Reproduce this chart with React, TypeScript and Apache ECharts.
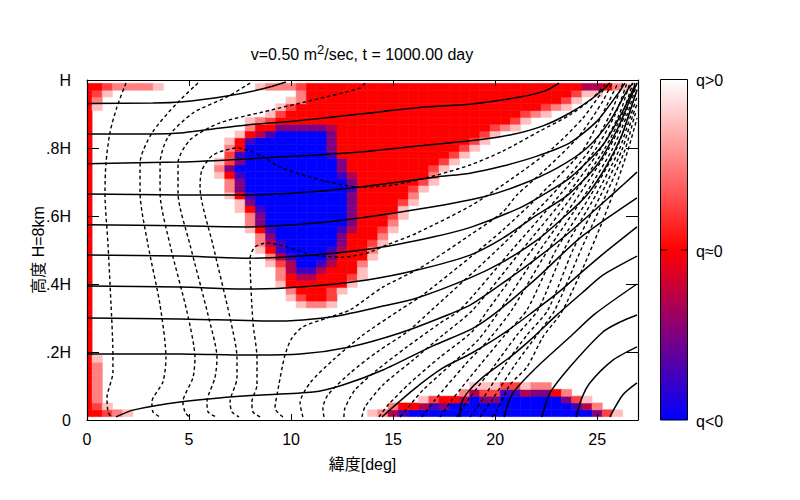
import React, { useEffect, useRef } from "react";
import * as echarts from "echarts";

const FONT = '"Liberation Sans","Noto Sans CJK JP",sans-serif';

const titleParts = ["v=0.50 m", "2", "/sec, t = 1000.00 day"];
const xAxisName = "緯度[deg]";
const yAxisName = "高度 H=8km";
const yTickLabels = ["0", ".2H", ".4H", ".6H", ".8H", "H"];
const barLabels = ["q>0", "q≈0", "q<0"];

// q levels: -1 blue, 0 red, +1 white
const qLevels: Record<string, number> = { B: -1, i: -0.75, p: -0.5, m: -0.3, r: 0, c: 0.25, b: 0.5, a: 0.75 };

// Cells by row (row n is height n/50); column k is latitude k/2. "start:letters" or "from-to:letter".
const qRows: Record<number, string> = {
  49: "0:rrcbbbba 17:abbbc 22-48:r 49:mmrba",
  48: "0:rca 21:b 22-47:r 48:caa",
  47: "0:rb 20:ab 22-46:r 47:ca",
  46: "0:ra 19:ac 21-44:r 45:cba",
  45: "0:r 18:ac 20-42:r 43:cba",
  44: "0:r 16:abc 19-41:r 42:ca",
  43: "0:r 16:b 17-18:r 19-23:p 24:m 25-39:r 40:cba",
  42: "0:r 15:armi 19-23:B 24:p 25-38:r 39:ca",
  41: "0:r 14:ari 17-23:B 24:p 25-37:r 38:ca",
  40: "0:r 14:br 16-23:B 24:p 25-36:r 37:ca",
  39: "0:r 14:ci 16-23:B 24:i 25-35:r 36:ca",
  38: "0:r 13:acp 16-24:B 25:p 26-34:r 35:ca",
  37: "0:r 13:bp 15-24:B 25:p 26-33:r 34:ca",
  36: "0:r 13:ari 16-24:B 25:im 27-33:r 34:b",
  35: "0:r 14:bp 16-25:B 26:p 27-32:r 33:ca",
  34: "0:r 14:bp 16-25:B 26:i 27-31:r 32:ca",
  33: "0:r 14:ari 17-25:B 26:p 27-31:r 32:b",
  32: "0:r 15:ap 17-25:B 26:p 27-30:r 31:ca",
  31: "0:r 15:ari 18-25:B 26:p 27-30:r 31:a",
  30: "0:r 16:bp 18-25:B 26:p 27-29:r 30:ca",
  29: "0:r 16:bp 18-25:B 26:p 27-29:r 30:b",
  28: "0:r 16:ari 19-24:B 25:im 27-28:r 29:ca",
  27: "0:r 17:bp 19-24:B 25:p 26-28:r 29:b",
  26: "0:r 17:bmi 20-24:B 25:p 26-27:r 28:ca",
  25: "0:r 17:ari 20-23:B 24:im 26-27:r 28:b",
  24: "0:r 18:bmi 21-23:B 24:p 25-27:r 28:a",
  23: "0:r 18:acm 21-22:B 23:im 25-26:r 27:b",
  22: "0:r 19:bmiim 24-26:r 27:a",
  21: "0:r 19:brmm 23-25:r 26:ca",
  20: "0:r 19:a 20-25:r 26:a",
  19: "0:r 20:b 21-23:r 24:ca",
  18: "0:r 20:ac 22-23:r 24:c",
  17: "0:r 21:abba",
  16: "0:r",
  15: "0:r",
  14: "0:r",
  13: "0:r",
  12: "0:r",
  11: "0:r",
  10: "0:r",
  9: "0:ra",
  8: "0:rb",
  7: "0:rb",
  6: "0:rb",
  5: "0:rb 38:aaaccabb",
  4: "0:rb 37:bmcc 41:iimppr 47:b",
  3: "0:rb 33:ac 35-36:r 37:mB 39:pp 41-46:B 47:pca",
  2: "0:rca 30:br 32:r 33:mip 36-47:B 48:imb",
  1: "0:rrcba 28:abmi 32-49:B 50:pca",
};

// Solid contours: [latitude deg, height / H]
const solidContours: number[][][] = [
  [[0,.931],[3.23,.932],[4.56,.935],[6.86,.953],[8.62,.974],[9.75,.994]],
  [[0,.841],[3.23,.841],[4.56,.844],[6.17,.856],[7.84,.868],[10.09,.879],[13.38,.9],[16.66,.921],[18.77,.929],[21.21,.95],[22.44,.968],[23.13,.991]],
  [[0,.754],[4.56,.759],[7.84,.768],[11.07,.779],[13.38,.788],[16.66,.809],[18.77,.821],[20.73,.838],[22.34,.865],[23.66,.903],[24.79,.947],[25.62,.991]],
  [[0,.665],[4.56,.662],[7.84,.662],[11.07,.671],[13.38,.685],[17.15,.715],[18.77,.726],[20.38,.747],[22.05,.776],[23.66,.815],[24.99,.879],[25.97,.956],[26.36,.991]],
  [[0,.574],[4.56,.571],[7.84,.568],[11.07,.579],[13.38,.594],[16.66,.624],[19.4,.656],[21.21,.691],[23.03,.741],[24.5,.8],[25.62,.879],[26.46,.968],[26.75,.991]],
  [[0,.485],[4.56,.482],[7.84,.476],[10.44,.482],[14.21,.506],[16.95,.538],[18.86,.568],[21.21,.624],[22.34,.662],[23.66,.712],[25.28,.809],[26.26,.909],[26.85,.985]],
  [[0,.394],[4.56,.391],[7.84,.385],[10.44,.391],[13.72,.412],[16.17,.441],[18.77,.485],[20.38,.535],[22.05,.603],[23.57,.662],[24.99,.75],[25.97,.853],[26.6,.941],[26.95,.991]],
  [[0,.3],[4.56,.297],[9.46,.291],[11.07,.297],[12.54,.309],[14.5,.335],[16.17,.359],[18.77,.418],[20.38,.465],[22.05,.529],[23.32,.594],[24.5,.662],[25.48,.75],[26.21,.838],[26.7,.926],[26.95,.971]],
  [[0,.194],[4.56,.194],[7.84,.191],[10.44,.194],[12.89,.215],[15.34,.256],[17.3,.3],[18.77,.338],[20.38,.403],[22.05,.476],[23.66,.553],[25.72,.662],[26.95,.729]],
  [[1.42,.009],[2.25,.029],[4.56,.053],[7.84,.071],[11.07,.082],[12.54,.103],[14.5,.147],[16.95,.218],[18.86,.268],[20.09,.318],[22.05,.418],[24.15,.535],[26.95,.653]],
  [[14.45,.009],[15.97,.088],[17.44,.153],[18.86,.197],[20.38,.253],[21.85,.318],[23.17,.379],[24.3,.438],[25.28,.488],[26.95,.568]],
  [[18.28,.009],[18.32,.044],[18.62,.079],[19.4,.126],[20.73,.185],[21.71,.235],[23.08,.312],[24.3,.376],[25.28,.426],[26.95,.482]],
  [[20.43,.009],[20.87,.079],[22.05,.156],[23.66,.244],[24.89,.312],[26.95,.4]],
  [[22.29,.009],[22.68,.079],[23.66,.156],[25.28,.259],[26.11,.288],[26.95,.309]],
  [[23.96,.009],[24.25,.065],[24.64,.109],[25.77,.176],[26.95,.215]],
  [[25.62,.009],[26.26,.074],[26.95,.109]],
];

// Dashed contours: [latitude deg, height / H]
const dashedContours: number[][][] = [
  [[1.91,.991],[1.47,.921],[1.13,.847],[.93,.756],[.88,.668],[1.03,.515],[1.13,.397],[1.27,.191],[1.27,.141],[.98,.065],[1.03,.024],[1.18,.009]],
  [[5.44,.991],[4.41,.932],[3.18,.844],[2.6,.756],[2.6,.668],[2.99,.515],[3.58,.338],[3.87,.182],[3.72,.112],[3.18,.053],[3.23,.024],[3.58,.009]],
  [[7.99,.991],[6.86,.95],[5.19,.903],[3.97,.832],[3.58,.756],[3.58,.668],[4.07,.515],[4.9,.318],[5.29,.182],[5.19,.124],[4.7,.053],[4.8,.024],[5,.009]],
  [[13.62,.991],[13.38,.976],[11.07,.941],[8.62,.906],[6.52,.874],[5.05,.824],[4.46,.756],[4.46,.668],[5.05,.515],[5.93,.309],[6.37,.182],[6.27,.124],[5.88,.053],[5.93,.024],[6.32,.009]],
  [[25.38,.988],[24.79,.947],[23.66,.897],[22.2,.85],[20.38,.791],[18.77,.75],[16.81,.715],[14.99,.691],[13.38,.685],[11.07,.712],[9.46,.744],[8.48,.779],[7.35,.8],[6.17,.779],[5.63,.735],[5.54,.685],[6.17,.515],[7.01,.3],[7.35,.182],[7.35,.124],[7.01,.053],[7.1,.024],[7.45,.009]],
  [[8.48,.009],[8.13,.024],[8.08,.053],[8.33,.103],[8.33,.182],[8.13,.288],[7.99,.476],[8.23,.509],[8.82,.521],[9.8,.509],[11.07,.485],[12.54,.479],[13.72,.491],[14.7,.515],[16.17,.55],[18.86,.632],[20.87,.712],[22.83,.8],[24.3,.888],[25.28,.968],[25.62,.991]],
  [[9.6,.009],[9.21,.035],[9.31,.074],[9.7,.191],[10.04,.241],[10.58,.274],[11.76,.3],[12.89,.324],[14.5,.391],[16.32,.447],[18.77,.544],[20.38,.612],[21.07,.662],[22.54,.741],[24.15,.838],[25.28,.938],[25.72,.991]],
  [[10.58,.009],[10.44,.05],[10.93,.109],[12.05,.176],[13.52,.25],[15.34,.324],[16.46,.368],[18.91,.485],[20.38,.559],[22.2,.662],[24.3,.794],[25.23,.897],[26.02,.991]],
  [[11.61,.009],[11.56,.035],[11.81,.074],[12.89,.138],[14.21,.2],[15.68,.259],[16.9,.324],[20.09,.5],[22.78,.662],[24.64,.794],[25.62,.897],[26.26,.991]],
  [[12.59,.009],[12.64,.035],[13.13,.088],[14.21,.147],[15.68,.215],[17.3,.285],[18.28,.324],[20.82,.5],[23.17,.662],[24.89,.794],[25.87,.897],[26.46,.991]],
  [[13.47,.009],[13.62,.038],[14.5,.103],[15.97,.176],[17.44,.25],[18.91,.324],[21.31,.5],[23.52,.662],[25.13,.794],[26.07,.897],[26.6,.991]],
  [[14.31,.009],[14.75,.044],[15.83,.109],[17.3,.185],[18.86,.259],[19.65,.324],[21.8,.5],[23.81,.662],[25.33,.794],[26.21,.897],[26.75,.991]],
  [[15.34,.009],[15.83,.044],[16.46,.088],[17.93,.168],[19.16,.235],[20.24,.324],[22.2,.5],[24.11,.662],[25.53,.794],[26.36,.897],[26.85,.991]],
  [[16.41,.009],[17.05,.059],[18.52,.162],[19.75,.241],[20.82,.324],[22.59,.5],[24.4,.662],[25.72,.794],[26.46,.897],[26.95,.991]],
  [[17.3,.009],[17.88,.059],[19.26,.162],[20.48,.25],[21.56,.324],[22.98,.5],[24.69,.662],[25.92,.794],[26.56,.897],[26.95,.971]],
  [[18.13,.009],[18.67,.059],[19.99,.162],[21.07,.25],[22.1,.324],[23.37,.5],[24.94,.662],[26.07,.794],[26.65,.897],[26.95,.95]],
  [[18.77,.009],[19.26,.05],[20.48,.162],[21.56,.25],[22.59,.324],[23.81,.5],[25.18,.662],[26.21,.794],[26.75,.897],[26.95,.929]],
  [[19.26,.009],[19.85,.059],[20.97,.162],[22.05,.25],[22.93,.324],[24.2,.5],[25.43,.662],[26.36,.794],[26.85,.897],[26.95,.909]],
  [[19.84,.009],[20.09,.029],[20.72,.103],[21.56,.156],[22.34,.244],[23.17,.309],[23.52,.347],[24.3,.447],[25.13,.565],[25.72,.656],[26.51,.794],[26.95,.888]],
];

function buildCells(): number[][] {
  const cells: number[][] = [];
  for (const key of Object.keys(qRows)) {
    const row = Number(key);
    for (const token of qRows[row].split(" ")) {
      const [pos, letters] = token.split(":");
      if (pos.includes("-")) {
        const [from, to] = pos.split("-").map(Number);
        for (let k = from; k <= to; k++) cells.push([k / 2, row / 50, qLevels[letters]]);
      } else {
        const start = Number(pos);
        [...letters].forEach((l, n) => cells.push([(start + n) / 2, row / 50, qLevels[l]]));
      }
    }
  }
  return cells;
}

const axisLine = { show: true, onZero: false, lineStyle: { color: "#000", width: 1.2 } };

export default function App() {
  const ref = useRef<HTMLDivElement>(null);
  useEffect(() => {
    document.body.style.margin = "0";
    const chart = echarts.init(ref.current!, undefined, { renderer: "svg" });
    const lineSeries = (lines: number[][][], type: any, width: number) =>
      lines.map((data) => ({
        type: "line",
        data,
        z: 3,
        symbol: "none",
        smooth: 0.25,
        silent: true,
        clip: true,
        lineStyle: { color: "#000", width, type },
      }));
    chart.setOption({
      animation: false,
      backgroundColor: "#fff",
      textStyle: { fontFamily: FONT },
      title: {
        text: `{t|${titleParts[0]}}{s|${titleParts[1]}}{t|${titleParts[2]}}`,
        left: 357,
        textAlign: "center",
        top: 38,
        textStyle: {
          fontWeight: "normal",
          rich: {
            t: { fontFamily: FONT, fontSize: 16, fontWeight: "normal", color: "#000", verticalAlign: "bottom", lineHeight: 20 },
            s: { fontFamily: FONT, fontSize: 13, fontWeight: "normal", color: "#000", verticalAlign: "top", lineHeight: 20, padding: [0, 0, 5, 0] },
          },
        },
      },
      grid: { left: 87, right: 162, top: 80, bottom: 80 },
      xAxis: [
        {
          type: "value", min: 0, max: 27, interval: 5, z: 10,
          name: xAxisName, nameLocation: "middle", nameGap: 36,
          nameTextStyle: { fontFamily: FONT, fontSize: 16, color: "#000" },
          axisLine, splitLine: { show: false },
          axisTick: { inside: true, length: 6, lineStyle: { color: "#000", width: 1 } },
          axisLabel: { color: "#000", fontFamily: FONT, fontSize: 16, margin: 11, showMaxLabel: false },
        },
        {
          type: "value", min: 0, max: 27, interval: 5, position: "top", z: 10,
          axisLine, splitLine: { show: false },
          axisTick: { inside: true, length: 6, lineStyle: { color: "#000", width: 1 } },
          axisLabel: { show: false },
        },
      ],
      yAxis: [
        {
          type: "value", min: 0, max: 1, interval: 0.2, z: 10,
          name: yAxisName, nameLocation: "middle", nameGap: 49, nameRotate: 90, nameMoveOverlap: false,
          nameTextStyle: { fontFamily: FONT, fontSize: 16, color: "#000", verticalAlign: "middle" },
          axisLine, splitLine: { show: false },
          axisTick: { inside: true, length: 12, lineStyle: { color: "#000", width: 1 } },
          axisLabel: {
            color: "#000", fontFamily: FONT, fontSize: 16, margin: 16,
            formatter: (v: number) => yTickLabels[Math.round(v / 0.2)],
          },
        },
        {
          type: "value", min: 0, max: 1, interval: 0.2, position: "right", z: 10,
          axisLine, splitLine: { show: false },
          axisTick: { inside: true, length: 12, lineStyle: { color: "#000", width: 1 } },
          axisLabel: { show: false },
        },
      ],
      visualMap: {
        show: false, type: "continuous", dimension: 2, seriesIndex: 0, min: -1, max: 1,
        inRange: { color: ["#0000ff", "#ff0000", "#ffffff"] },
      },
      series: [
        {
          type: "custom",
          z: 1,
          silent: true,
          clip: true,
          data: buildCells(),
          encode: { x: 0, y: 1 },
          renderItem: (_: any, api: any) => {
            const a = api.coord([api.value(0) - 0.25, api.value(1) + 0.01]);
            const b = api.coord([api.value(0) + 0.25, api.value(1) - 0.01]);
            const color = api.visual("color");
            return {
              type: "rect",
              shape: { x: a[0], y: a[1], width: b[0] - a[0], height: b[1] - a[1] },
              style: { fill: color, stroke: color, lineWidth: 0.6 },
            };
          },
        },
        ...lineSeries(solidContours, "solid", 1.5),
        ...lineSeries(dashedContours, [3.5, 2.8], 1.4),
      ],
      graphic: [
        {
          type: "rect",
          shape: { x: 660.5, y: 79.5, width: 27, height: 340.5 },
          style: {
            stroke: "#000",
            lineWidth: 1,
            fill: new echarts.graphic.LinearGradient(0, 0, 0, 1, [
              { offset: 0, color: "#ffffff" },
              { offset: 0.5, color: "#ff0000" },
              { offset: 1, color: "#0000ff" },
            ]),
          },
        },
        { type: "line", shape: { x1: 661, y1: 250, x2: 667, y2: 250 }, style: { stroke: "#000", lineWidth: 1 } },
        { type: "line", shape: { x1: 681, y1: 250, x2: 687, y2: 250 }, style: { stroke: "#000", lineWidth: 1 } },
        ...barLabels.map((text, n) => ({
          type: "text",
          x: 696,
          y: [80, 251, 421][n],
          style: { text, fill: "#000", font: `16px ${FONT}`, textAlign: "left", textVerticalAlign: "middle" },
        })),
      ],
    });
    return () => chart.dispose();
  }, []);
  return <div ref={ref} style={{ position: "fixed", left: 0, top: 0, width: 800, height: 500, background: "#fff" }} />;
}
